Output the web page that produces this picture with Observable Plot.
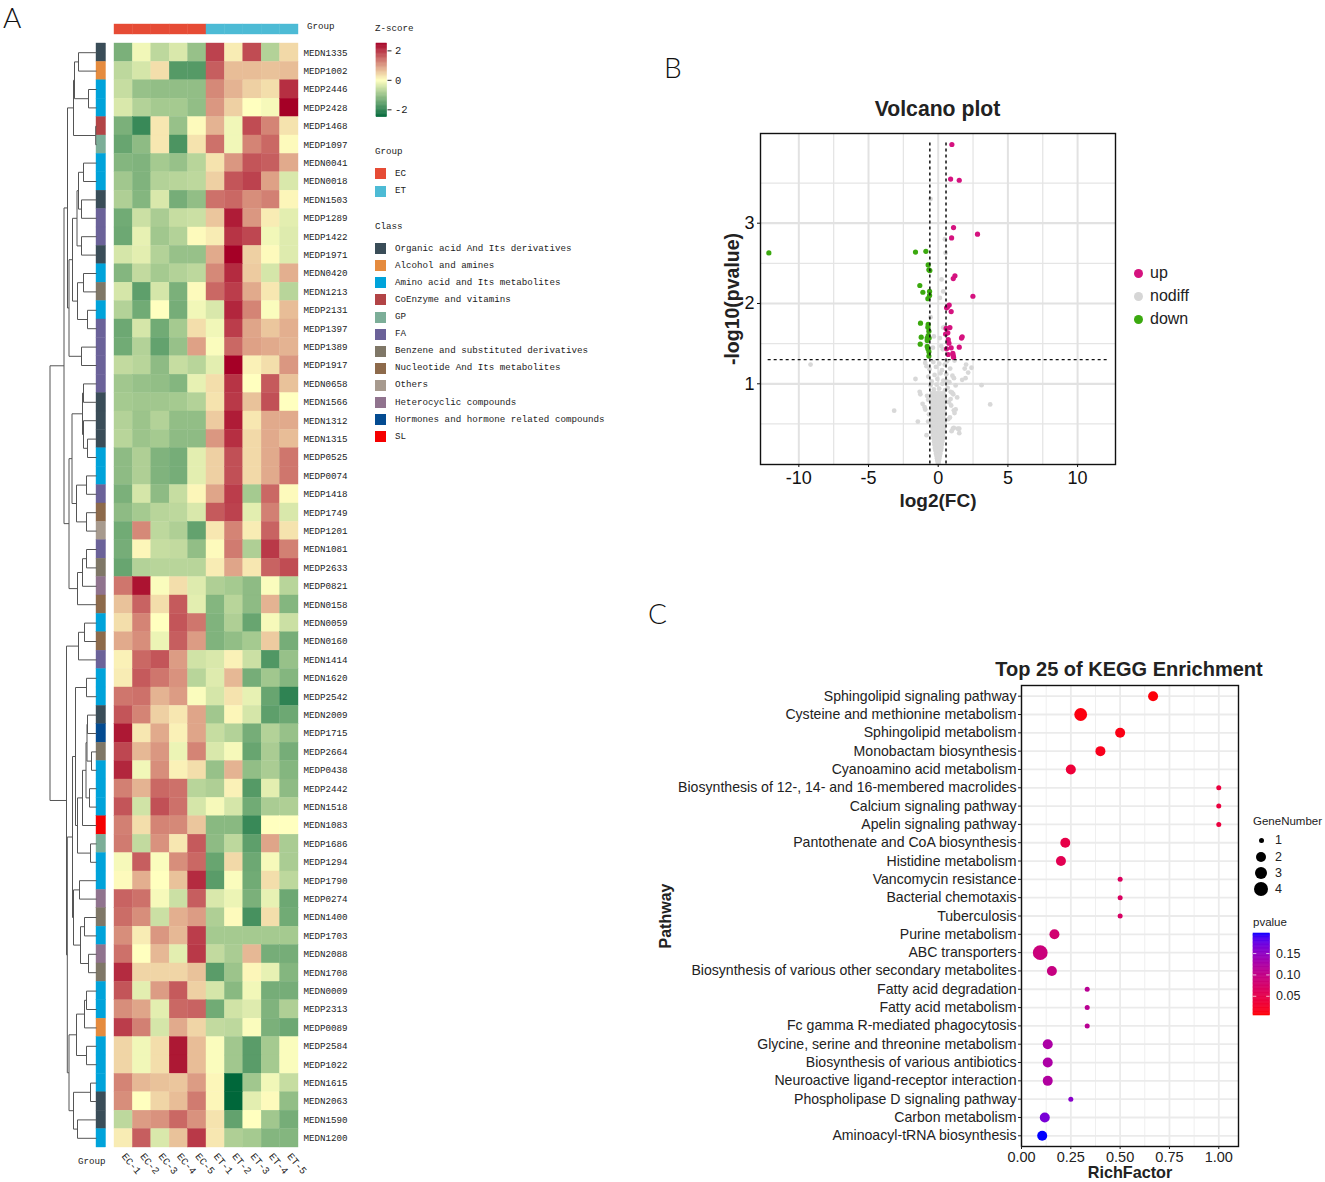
<!DOCTYPE html>
<html><head><meta charset="utf-8">
<script src="https://cdn.jsdelivr.net/npm/d3@7"></script>
<script src="https://cdn.jsdelivr.net/npm/@observablehq/plot@0.6"></script>
<style>
html,body{margin:0;padding:0;background:#fff}
#page{position:relative;width:1325px;height:1182px;overflow:hidden;background:#fff}
#page svg{position:absolute;background:transparent;overflow:visible}
.t{position:absolute;white-space:nowrap;line-height:1.2;color:#111}
.mono{font-family:"Liberation Mono",monospace;font-size:9.2px;color:#222}
.sans{font-family:"Liberation Sans",Arial,sans-serif}
</style></head><body><div id="page"></div>
<script>
// ---------- Panel A data ----------
const samples=["EC-1","EC-2","EC-3","EC-4","EC-5","ET-1","ET-2","ET-3","ET-4","ET-5"];
const groupOf=["EC","EC","EC","EC","EC","ET","ET","ET","ET","ET"];
const metabolites=["MEDN1335","MEDP1002","MEDP2446","MEDP2428","MEDP1468","MEDP1097","MEDN0041","MEDN0018","MEDN1503","MEDP1289","MEDP1422","MEDP1971","MEDN0420","MEDN1213","MEDP2131","MEDP1397","MEDP1389","MEDP1917","MEDN0658","MEDN1566","MEDN1312","MEDN1315","MEDP0525","MEDP0074","MEDP1418","MEDP1749","MEDP1201","MEDN1081","MEDP2633","MEDP0821","MEDN0158","MEDN0059","MEDN0160","MEDN1414","MEDN1620","MEDP2542","MEDN2009","MEDP1715","MEDP2664","MEDP0438","MEDP2442","MEDN1518","MEDN1083","MEDP1686","MEDP1294","MEDP1790","MEDP0274","MEDN1400","MEDP1703","MEDN2088","MEDN1708","MEDN0009","MEDP2313","MEDP0089","MEDP2584","MEDP1022","MEDN1615","MEDN2063","MEDN1590","MEDN1200"];
// shade read from each cell, on a ramp whose ends are +/-2.7
const shades=[
[-1.4,-0.15,-0.7,-0.4,-1.1,2.0,0.2,1.9,-0.8,0.4],
[-0.7,-0.45,0.35,-1.8,-1.8,1.7,0.7,0.7,0.65,0.7],
[-0.6,-1.1,-1.15,-1.15,-1.15,1.25,0.8,0.5,0.35,2.2],
[-0.4,-0.8,-0.95,-0.95,-1.15,1.1,0.5,0,-0.1,2.7],
[-1.4,-2.1,0.25,-1.1,0.05,0.8,-0.15,1.9,1.3,0.3],
[-1.6,-1.2,0.25,-1.9,0.3,1.5,-0.15,1.3,1.6,0.05],
[-1.3,-1.35,-0.95,-1.1,-0.75,0.3,1.1,1.8,1.7,0.9],
[-1.0,-1.35,-0.8,-0.75,-0.7,0.5,1.8,2.0,1.0,-0.4],
[-0.85,-1.3,-0.4,-1.45,-1.15,1.5,1.6,1.2,1.35,0.1],
[-1.5,-0.55,-0.9,-0.6,-0.55,0.6,2.4,1.1,0.2,-0.3],
[-1.55,-0.25,-1.0,-0.8,0.05,0.2,2.15,1.95,-0.15,-0.35],
[-0.45,-0.3,-0.8,-1.1,-1.1,0.9,2.7,0.5,0.05,-0.35],
[-1.3,-0.65,-0.95,-0.8,-0.7,1.25,2.25,0.55,-0.45,0.85],
[-0.45,-1.7,-0.45,-1.4,0.05,1.6,2.05,0.9,0.25,-0.75],
[-0.8,-1.5,0.0,-1.45,-0.15,-0.4,2.3,1.3,-0.05,0.7],
[-1.55,-0.45,-1.5,-0.95,0.35,-0.15,2.05,0.95,0.6,0.85],
[-1.5,-0.8,-1.65,-1.1,1.0,-0.05,1.6,1.0,0.9,0.8],
[-0.65,-0.75,-1.2,-0.6,-0.75,-0.3,2.7,0.15,0.35,1.1],
[-1.0,-1.1,-1.15,-1.3,-0.25,0.35,2.15,0.0,1.75,0.65],
[-0.95,-1.0,-1.0,-0.95,-0.8,0.3,2.1,0.65,1.85,0],
[-0.8,-1.05,-0.8,-1.15,-1.15,0.55,2.4,0.25,0.9,0.9],
[-0.75,-1.05,-0.95,-1.2,-1.2,1.1,2.2,0.4,0.9,0.7],
[-1.2,-0.85,-1.35,-1.45,-0.3,0.5,1.85,0.4,0.9,1.45],
[-1.2,-0.85,-1.35,-1.45,-0.3,0.5,1.85,0.4,0.9,1.45],
[-1.4,-0.45,-1.2,-0.6,0.1,0.95,2.05,-0.95,1.6,0.05],
[-1.2,-0.95,-0.75,-0.7,-0.4,1.75,2.0,-0.3,1.35,-0.4],
[-1.5,1.25,-0.7,-0.85,-1.65,0.25,1.3,0.2,1.65,0.3],
[-1.45,0.1,-0.6,-0.65,-1.15,0.05,1.4,-0.85,2.1,1.35],
[-1.6,-0.8,-0.75,-0.75,-0.75,0.2,0.95,0.25,1.65,1.9],
[1.45,2.5,-0.05,0.35,-0.35,-0.85,-0.95,-1.2,-0.05,-0.75],
[0.65,1.65,0.35,1.75,-0.3,-1.3,-0.75,-1.2,0.8,-1.3],
[0.35,1.3,0,1.8,1.45,-1.35,-0.85,-1.6,-0.1,-0.55],
[0.9,1.2,-0.2,1.7,1.05,-1.35,-1.15,-0.95,0.55,-1.45],
[0.15,1.6,1.8,1.05,-0.5,-0.4,0.15,-0.55,-1.85,-1.1],
[0.2,1.75,1.45,1.15,-0.75,-0.35,0.75,-1.45,-1.0,-1.3],
[1.45,1.5,0.8,1.05,-0.05,-0.45,0.3,-0.25,-1.6,-2.2],
[1.8,1.3,0.5,0.25,0.95,-1.0,0.1,-0.45,-1.7,-1.55],
[2.45,0.25,0.9,0.15,0.95,-0.6,-0.8,-1.45,-0.8,-1.1],
[1.95,0.75,1.1,-0.2,1.3,-0.4,-0.1,-1.6,-0.9,-1.45],
[2.3,-0.15,1.2,0.15,0.35,-1.1,0.8,-1.15,-0.9,-1.3],
[1.35,0.8,1.6,1.5,-0.75,-0.85,0.15,-1.8,-0.3,-1.2],
[1.8,-0.5,1.85,1.5,-0.45,-0.1,-0.45,-1.5,-0.9,-0.85],
[1.35,0.35,1.3,1.25,0.6,-1.25,-1.25,-2.1,0,0],
[1.4,-0.65,1.15,0.25,1.75,-1.2,-0.7,-1.7,0.95,-0.9],
[-0.1,1.7,-0.05,1.2,1.6,-1.6,0.4,-1.55,-0.1,-0.9],
[0.05,0.85,0,0.65,2.25,-1.75,-0.05,-1.5,0.35,-0.7],
[1.65,1.5,-0.1,-0.55,1.7,-0.4,-0.2,-1.4,-0.25,-1.55],
[1.55,1.2,-0.55,0.85,1.05,-0.85,0.05,-1.95,0.35,-1.5],
[1.2,0.2,1.1,0.75,2.05,-0.95,-0.95,-0.95,-0.95,-0.95],
[1.5,0,0.75,-0.3,2.1,-0.65,-0.9,0.75,-1.45,-1.45],
[2.25,0.45,0.45,0.45,0.65,-1.75,-1.05,0.1,-0.25,-1.3],
[1.8,-0.3,1.05,1.75,0.5,-0.45,-1.25,-0.15,-1.45,-1.45],
[1.2,0.95,-0.3,1.6,1.65,-1.5,-0.5,-0.35,-1.35,-0.85],
[2.05,1.35,-0.45,0.9,0.45,-0.65,-0.7,-0.05,-1.4,-1.55],
[0.45,-0.15,0.35,2.45,0.7,-0.05,-1.0,-1.75,-0.95,-0.05],
[0.45,-0.15,0.35,2.45,0.7,-0.05,-1.0,-1.75,-0.95,-0.05],
[1.3,0.75,0.65,0.6,1.05,0.1,-2.7,-1.0,-0.15,-0.6],
[1.2,0,0.45,0.7,1.4,0.1,-2.7,-0.3,0.05,-1.15],
[-0.7,1.05,1.15,1.6,1.15,0.3,-1.65,0,-1.0,-1.45],
[0.2,1.7,-0.4,0.65,2.1,0.25,-0.85,-0.95,-1.3,-1.3]];
const shadeEnd=2.7, zEnd=2.5;
const classNames=["Organic acid And Its derivatives","Alcohol and amines","Amino acid and Its metabolites","CoEnzyme and vitamins","GP","FA","Benzene and substituted derivatives","Nucleotide And Its metabolites","Others","Heterocyclic compounds","Hormones and hormone related compounds","SL"];
const classColors=["#3a4d58","#e58b3e","#00a3da","#b24446","#7cae98","#6b6299","#7f7767","#8d6a4b","#a79a8e","#90738e","#034b91","#f50000"];
// index into classNames for each metabolite
const rowClass=[0,1,2,2,3,4,2,2,0,5,5,0,2,6,2,5,5,5,5,0,0,0,2,2,5,7,8,5,6,9,7,2,7,5,2,2,0,10,6,2,2,2,11,4,2,2,9,6,2,9,6,2,2,1,2,2,2,0,0,2];
const groupNames=["EC","ET"], groupColors=["#e64b35","#4dbbd5"];
const zColors=["#00673a","#ffffbf","#a50026"];
// dendrogram: [merge distance, left, right]; a number is a row
const tree=[46.5,
 [30,
  [29.2,
   [27.5,
    [23,[19,0,1],[6,2,3]],
    [20,[10,4,5],[12,6,[10,7,8]]]],
   [24,
    [23,[16,[8,9,10],[12,11,12]],[17,13,14]],
    [21,
     [19,[6,15,16],[14,17,[10.5,[7,18,19],[9.5,[5,20,21],[9,22,23]]]]],
     [10,24,25]]]],
  [18,26,[12,27,28]]],
 [32.5,
  [27.5,
   [19,29,[14,30,[10,31,32]]],
   [24.5,
    [20,[10,33,34],[10,35,36]],
    [14,[13,[9,37,38],39],[13,40,41]]]],
  [29,
   [27.5,
    [15,42,43],
    [24,
     [19,[9,44,45],[13,46,47]],
     [19.5,[15,48,49],[18,[15,50,51],[13,52,53]]]]],
   [23,[0.8,54,55],[22,[8,56,57],[18,58,59]]]]]];

// ---------- Panel B data ----------
const upPts=[[.98,3.98],[.89,3.55],[1.51,3.535],[1.1,2.946],[2.82,2.863],[.96,2.817],[1.2,2.345],[1.08,2.31],[2.49,2.09],[.79,1.98],[.6,1.946],[.67,1.96],[.93,1.9],[.84,1.7],[.57,1.69],[.69,1.635],[.53,1.62],[1.72,1.585],[1.67,1.57],[.72,1.55],[.77,1.506],[1.51,1.456],[.93,1.448],[.6,1.436],[.72,1.365],[1.05,1.38],[1.08,1.35],[1.1,1.33]];
const downPts=[[-12.15,2.63],[-1.63,2.64],[-.885,2.65],[-.72,2.48],[-.67,2.42],[-.6,2.41],[-1.32,2.224],[-1.1,2.14],[-.62,2.15],[-.62,2.1],[-.74,2.06],[-1.27,1.755],[-.72,1.74],[-.74,1.705],[-.67,1.655],[-.72,1.6],[-1.22,1.58],[-.79,1.57],[-.65,1.57],[-.79,1.54],[-1.29,1.494],[-.79,1.465],[-.74,1.435],[-.67,1.4],[-.67,1.345]];
const grayOutliers=[[-9.16,1.24],[-3.16,.665],[3.73,.743],[3.11,.983],[-1.63,1.06],[-1.46,.53],[-1.33,.9],[-1.28,.87],[-1.12,.75],[-.98,.71],[-.93,.68],[-.84,.36],[2.39,1.2],[2.0,1.24],[1.9,1.19],[2.15,1.14],[1.96,1.07],[1.72,1.05],[1.25,.98],[1.36,.83],[1.0,.89],[.89,.9],[1.08,.87],[.89,.81],[.77,.77],[.93,.73],[1.25,.68],[1.17,.635],[1.12,.67],[.84,.58],[1.05,.44],[.96,.41],[1.41,.44],[1.51,.44],[1.51,.385],[1.12,.45],[-.55,3.3],[.48,2.8],[.53,2.63],[.24,2.3],[.36,2.15],[.12,2.07],[-.55,1.83],[.36,1.7],[.48,1.71],[.12,1.57],[-.31,1.59],[-.38,1.45],[.22,1.47],[.33,1.43],[1.17,1.29],[-.84,1.22],[-.8,.85],[-.72,.8],[-.66,.62],[-.72,.53],[.68,.95],[.62,1.03],[.8,1.02],[.72,.56],[-.93,1.26],[-.62,1.18],[-.35,1.27],[-.16,1.21],[.08,1.25],[.27,1.17],[.47,1.24],[.63,1.28],[.86,1.19],[-.71,1.09],[-.47,1.03],[-.26,1.11],[-.06,1.06],[.16,1.13],[.37,1.04],[.58,1.12],[1.02,1.1],[1.13,1.07],[-.55,.98],[-.31,.93],[-.12,.99],[.07,.94],[.3,1.0],[.49,.92]];
// x positions of the dense grey funnel, read level by level: [y, xs]
const grayFunnel=[
[.01,[0]],[.025,[-.03,.03]],[.045,[-.06,0,.05]],[.07,[-.09,-.02,.08]],[.1,[-.12,0,.11]],
[.13,[-.16,-.06,.07,.15]],[.17,[-.2,-.1,.02,.11,.2]],[.2,[-.24,-.13,-.03,.06,.15,.23]],
[.24,[-.27,-.15,-.05,.04,.13,.26]],[.28,[-.3,-.2,-.08,.03,.12,.22,.3]],[.32,[-.33,-.24,-.11,0,.1,.2,.3,.34]],
[.36,[-.36,-.26,-.14,-.02,.09,.22,.34]],[.4,[-.38,-.29,-.16,-.04,.07,.19,.31,.39]],
[.44,[-.4,-.31,-.18,-.05,.08,.21,.34,.41]],[.48,[-.42,-.3,-.21,-.06,.06,.2,.33]],
[.52,[-.44,-.32,-.22,-.09,.05,.19,.36,.43]],[.56,[-.4,-.3,-.18,-.03,.12,.27,.42]],
[.6,[-.46,-.34,-.24,-.07,.09,.23,.38]],[.64,[-.42,-.28,-.15,0,.17,.33,.46]],
[.68,[-.47,-.36,-.22,-.1,.06,.24,.38]],[.72,[-.43,-.3,-.17,-.02,.14,.3,.44]],
[.76,[-.5,-.37,-.23,-.09,.08,.25,.4]],[.8,[-.42,-.29,-.14,.01,.17,.33,.49]],
[.84,[-.36,-.22,-.08,.09,.27,.42]],[.88,[-.45,-.28,-.11,.04,.22,.38]]];
const xMajor=[-10,-5,0,5,10], xMinor=[-7.5,-2.5,2.5,7.5];
const yMajor=[1,2,3], yMinor=[.5,1.5,2.5,3.5];
const fcCuts=[-.6,.56], pCut=1.3;

// ---------- Panel C data ----------
const pathways=["Sphingolipid signaling pathway","Cysteine and methionine metabolism","Sphingolipid metabolism","Monobactam biosynthesis","Cyanoamino acid metabolism","Biosynthesis of 12-, 14- and 16-membered macrolides","Calcium signaling pathway","Apelin signaling pathway","Pantothenate and CoA biosynthesis","Histidine metabolism","Vancomycin resistance","Bacterial chemotaxis","Tuberculosis","Purine metabolism","ABC transporters","Biosynthesis of various other secondary metabolites","Fatty acid degradation","Fatty acid metabolism","Fc gamma R-mediated phagocytosis","Glycine, serine and threonine metabolism","Biosynthesis of various antibiotics","Neuroactive ligand-receptor interaction","Phospholipase D signaling pathway","Carbon metabolism","Aminoacyl-tRNA biosynthesis"];
const richFactor=[.667,.3,.5,.4,.25,1,1,1,.222,.2,.5,.5,.5,.167,.095,.154,.333,.333,.333,.133,.133,.133,.25,.118,.105];
const geneNumber=[2,3,2,2,2,1,1,1,2,2,1,1,1,2,4,2,1,1,1,2,2,2,1,2,2];
const pvalues=[.008,.01,.012,.016,.035,.04,.04,.04,.047,.055,.065,.066,.07,.08,.09,.095,.11,.11,.11,.125,.125,.12,.155,.165,.197];
const geneLevels=[1,2,3,4], geneRadius=[2.5,5,6.4,7.4];
const pTicks=[.05,.1,.15], pDomain=[.005,.197];
const richTicks=[0,.25,.5,.75,1], richMinor=[.125,.375,.625,.875];

// ---------- helpers ----------
const page=document.getElementById("page");
function place(svg,left,top){svg.style.left=left+"px";svg.style.top=top+"px";page.appendChild(svg);return svg;}
function label(text,x,y,cls="mono",style={}){
  const s=document.createElement("span");s.className="t "+cls;s.textContent=text;
  s.style.left=x+"px";s.style.top=y+"px";s.style.transform="translateY(-50%)";Object.assign(s.style,style);
  page.appendChild(s);return s;}
function box(x,y,w,h,color,round){
  const s=document.createElement("div");
  s.style.cssText=`position:absolute;left:${x}px;top:${y}px;width:${w}px;height:${h}px;background:${color};${round?"border-radius:50%;":""}`;
  page.appendChild(s);}
const mono='"Liberation Mono",monospace', sans='"Liberation Sans",Arial,sans-serif';

// ---------- Panel A ----------
const rows=[];
metabolites.forEach((m,i)=>samples.forEach((s,j)=>rows.push({m,s,z:shades[i][j]*zEnd/shadeEnd})));
const cellW=184, cellH=1104;
const zScale={type:"linear",domain:[-zEnd,0,zEnd],range:zColors,interpolate:"rgb"};
place(Plot.plot({width:cellW+60,height:cellH+40,marginLeft:0,marginRight:60,marginTop:0,marginBottom:40,
  style:{fontFamily:mono,fontSize:"9.2px",color:"#222"},
  x:{domain:samples,padding:0,round:false,label:null},y:{domain:metabolites,padding:0,round:false,label:null},
  color:zScale,
  marks:[
    Plot.cell(rows,{x:"s",y:"m",fill:"z",stroke:"z",strokeWidth:.4}),
    Plot.axisY({anchor:"right",tickSize:0,tickPadding:5,label:null}),
    Plot.axisX({anchor:"bottom",tickSize:0,tickPadding:7,tickRotate:50,fontSize:10,label:null})
  ]}),114,43);
// group bar
place(Plot.plot({width:cellW,height:10,margin:0,axis:null,
  x:{domain:samples,padding:0,round:false},
  color:{domain:groupNames,range:groupColors},
  marks:[Plot.cell(samples.map((s,j)=>({s,g:groupOf[j]})),{x:"s",fill:"g",stroke:"g",strokeWidth:.4})]}),114,24);
// class bar
place(Plot.plot({width:9.5,height:cellH,margin:0,axis:null,
  y:{domain:metabolites,padding:0,round:false},
  color:{domain:classNames,range:classColors},
  marks:[Plot.cell(metabolites.map((m,i)=>({m,c:classNames[rowClass[i]]})),{y:"m",fill:"c",stroke:"c",strokeWidth:.4})]}),96,43);
// dendrogram
const links=[];
function walk(n){
  if(typeof n==="number")return{h:0,y:n+.5};
  const a=walk(n[1]),b=walk(n[2]),h=n[0];
  links.push({x1:h,y1:a.y,x2:h,y2:b.y},{x1:h,y1:a.y,x2:a.h,y2:a.y},{x1:h,y1:b.y,x2:b.h,y2:b.y});
  return{h,y:(a.y+b.y)/2};
}
walk(tree);
place(Plot.plot({width:47,height:cellH,margin:0,axis:null,
  x:{domain:[47,0]},y:{domain:[0,60]},
  marks:[Plot.link(links,{x1:"x1",y1:"y1",x2:"x2",y2:"y2",stroke:"#555",strokeWidth:1,curve:"linear",markerEnd:"none"})]}),49,43);
label("Group",307,27);
label("Group",78,1161.5);
label("Z-score",375,28.5);
label("Group",375,151.7);
label("Class",375,226.7);
// z colour bar
const zStripes=d3.range(90).map(i=>({a:-zEnd+i*(2*zEnd)/90,b:-zEnd+(i+1)*(2*zEnd)/90}));
place(Plot.plot({width:40,height:73.7,marginLeft:0,marginRight:29.5,marginTop:0,marginBottom:0,
  style:{fontFamily:mono,fontSize:"10.5px",color:"#222"},
  x:{axis:null,domain:[0,1]},y:{domain:[-zEnd,zEnd],label:null},color:zScale,
  marks:[Plot.rect(zStripes,{x1:0,x2:1,y1:"a",y2:"b",fill:d=>(d.a+d.b)/2,stroke:d=>(d.a+d.b)/2,strokeWidth:.5}),
    Plot.axisY({anchor:"right",ticks:[-2,0,2],tickSize:4,tickPadding:4,tickFormat:d=>d<0?"-"+(-d):String(d),label:null})]}),375.5,43);
groupNames.forEach((g,i)=>{box(375,[168,185.5][i],11,11,groupColors[i]);label(g,395,[173.5,191][i]);});
classNames.forEach((c,i)=>{const y=248.7+i*17.09;box(375,y-5.5,11,11,classColors[i]);label(c,395,y);});

// ---------- Panel B ----------
const grayPts=grayOutliers.concat(grayFunnel.flatMap(([y,xs])=>xs.map(x=>[x,y])));
place(Plot.plot({width:440,height:404,marginLeft:70,marginRight:15,marginTop:13,marginBottom:60,
  style:{fontFamily:sans,color:"#111",fontSize:"18px"},
  x:{domain:[-12.75,12.72],label:null},y:{domain:[-.005,4.117],label:null},
  marks:[
    Plot.ruleX(xMinor,{stroke:"#e5e5e5",strokeWidth:1.3}),
    Plot.ruleY(yMinor,{stroke:"#e5e5e5",strokeWidth:1.3}),
    Plot.ruleX(xMajor,{stroke:"#e2e2e2",strokeWidth:2}),
    Plot.ruleY(yMajor,{stroke:"#e2e2e2",strokeWidth:2.2}),
    Plot.dot(grayPts,{x:d=>d[0],y:d=>d[1],r:2.4,fill:"#d8d8d8"}),
    Plot.dot(upPts,{x:d=>d[0],y:d=>d[1],r:2.6,fill:"#d5127f"}),
    Plot.dot(downPts,{x:d=>d[0],y:d=>d[1],r:2.6,fill:"#3ba90f"}),
    Plot.ruleX(fcCuts,{y1:0,y2:4.0,stroke:"#111",strokeWidth:1.5,strokeDasharray:"3,3"}),
    Plot.ruleY([pCut],{x1:-12.2,x2:12.25,stroke:"#111",strokeWidth:1.2,strokeDasharray:"3,3"}),
    Plot.frame({stroke:"#111",strokeWidth:1.4}),
    Plot.axisX({ticks:xMajor,tickSize:3,tickPadding:4,fontSize:18,tickFormat:d=>String(d),label:null}),
    Plot.axisY({ticks:yMajor,tickSize:3,tickPadding:3,fontSize:18,tickFormat:d=>String(d),label:null}),
    Plot.text(["log2(FC)"],{frameAnchor:"bottom",dy:42,fontSize:19,fontWeight:"bold",fill:"#222"}),
    Plot.text(["-log10(pvalue)"],{frameAnchor:"left",textAnchor:"middle",dx:-28,rotate:-90,fontSize:19.5,fontWeight:"bold",fill:"#222"})
  ]}),690,120);
label("Volcano plot",937.5,109,"sans",{fontSize:"21.2px",fontWeight:"bold",transform:"translate(-50%,-50%)",color:"#222"});
[["up","#d5127f",273],["nodiff","#d6d6d6",296],["down","#3ba90f",319]].forEach(([t,c,y])=>{
  box(1133.5,y-4.5,9,9,c,true);label(t,1150,y,"sans",{fontSize:"16px",color:"#222"});});

// ---------- Panel C ----------
const kegg=pathways.map((p,i)=>({p,rich:richFactor[i],gene:geneNumber[i],pv:pvalues[i]}));
const pScale={type:"linear",domain:pDomain,range:["#ff0000","#0000ff"],interpolate:"lab"};
place(Plot.plot({width:579,height:507,marginLeft:361,marginRight:1,marginTop:10,marginBottom:36,
  style:{fontFamily:sans,color:"#222",fontSize:"13px"},
  x:{domain:[0,1.1],label:null},
  y:{type:"point",domain:pathways,range:[20.7,460.3],padding:0,round:false,label:null},
  r:{type:"linear",domain:geneLevels,range:geneRadius},
  color:pScale,
  marks:[
    Plot.ruleX(richMinor,{stroke:"#efefef",strokeWidth:1}),
    Plot.ruleX(richTicks,{stroke:"#ebebeb",strokeWidth:1.8}),
    Plot.ruleY(pathways,{stroke:"#ebebeb",strokeWidth:1.8}),
    Plot.dot(kegg,{x:"rich",y:"p",r:"gene",fill:"pv"}),
    Plot.frame({stroke:"#111",strokeWidth:1.4}),
    Plot.axisX({ticks:richTicks,tickSize:3,tickPadding:2,fontSize:14.5,tickFormat:d3.format(".2f"),label:null}),
    Plot.axisY({tickSize:3,tickPadding:2,fontSize:14.1,label:null}),
    Plot.text(["RichFactor"],{frameAnchor:"bottom",dy:31,fontSize:16.2,fontWeight:"bold",fill:"#222"}),
    Plot.text(["Pathway"],{frameAnchor:"left",textAnchor:"middle",dx:-356,rotate:-90,fontSize:16,fontWeight:"bold",fill:"#222"})
  ]}),660,675);
label("Top 25 of KEGG Enrichment",1129,669,"sans",{fontSize:"20px",fontWeight:"bold",transform:"translate(-50%,-50%)",color:"#222"});
label("GeneNumber",1253,821.5,"sans",{fontSize:"11.5px",color:"#222"});
geneLevels.forEach((g,i)=>{const y=[840,856.7,873,889][i],r=geneRadius[i];box(1261-r,y-r,2*r,2*r,"#000",true);label(String(g),1275,y,"sans",{fontSize:"12.5px",color:"#222"});});
label("pvalue",1253,923,"sans",{fontSize:"11.5px",color:"#222"});
const pStripes=d3.range(60).map(i=>({a:pDomain[0]+i*(pDomain[1]-pDomain[0])/60,b:pDomain[0]+(i+1)*(pDomain[1]-pDomain[0])/60}));
place(Plot.plot({width:60,height:82,marginLeft:0,marginRight:43.5,marginTop:0,marginBottom:0,
  style:{fontFamily:sans,color:"#222",fontSize:"12.5px"},
  x:{axis:null,domain:[0,1]},y:{domain:pDomain,label:null},color:pScale,
  marks:[Plot.rect(pStripes,{x1:0,x2:1,y1:"a",y2:"b",fill:d=>(d.a+d.b)/2,stroke:d=>(d.a+d.b)/2,strokeWidth:.6}),
    Plot.ruleY(pTicks,{x1:0,x2:.2,stroke:"#fff",strokeOpacity:.7}),Plot.ruleY(pTicks,{x1:.8,x2:1,stroke:"#fff",strokeOpacity:.7}),
    Plot.axisY({anchor:"right",ticks:pTicks,tickSize:0,tickPadding:6,tickFormat:d3.format(".2f"),label:null})]}),1253,933);

// panel letters
const letterStyle={fontFamily:'Lato,sans-serif',fontSize:"28px",fontWeight:"300",color:"#111"};
label("A",3,17.5,"",letterStyle);
label("B",664,68,"",letterStyle);
label("C",648,614,"",letterStyle);
</script></body></html>
